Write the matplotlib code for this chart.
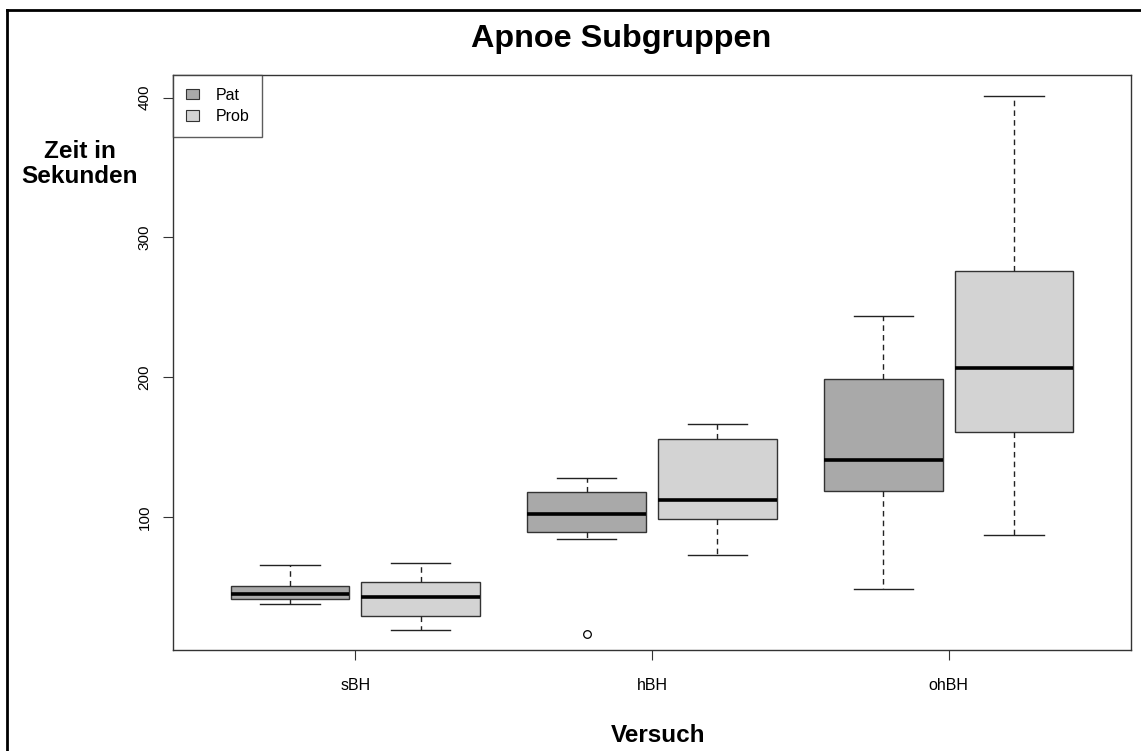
import numpy as np
import matplotlib.pyplot as plt
from matplotlib.patches import Patch
from matplotlib.lines import Line2D

plt.rcParams['font.family'] = ['Liberation Sans', 'DejaVu Sans']

versuch = ['sBH', 'hBH', 'ohBH']
gruppen = ['Pat', 'Prob']
farben = ['#a9a9a9', '#d3d3d3']

# whisker low, q1, median, q3, whisker high
pat_stats = [
    [37.4, 41.0, 44.5, 50.7, 65.7],
    [84.1, 88.9, 102.2, 117.5, 127.8],
    [48.0, 118.7, 140.4, 198.4, 243.5],
]
prob_stats = [
    [19.0, 28.8, 42.6, 53.5, 66.9],
    [73.0, 98.6, 112.0, 155.7, 166.7],
    [87.0, 160.7, 206.5, 276.2, 401.0],
]
pat_ausreisser = [[], [16.0], []]
prob_ausreisser = [[], [], []]


def make_stats(rows, fliers):
    out = []
    for (lo, q1, med, q3, hi), fl in zip(rows, fliers):
        out.append(dict(whislo=lo, q1=q1, med=med, q3=q3, whishi=hi,
                        fliers=np.array(fl)))
    return out


fig = plt.figure(figsize=(11.41, 7.51), dpi=100)
ax = fig.add_axes([173 / 1141, 1 - 650 / 751, (1131 - 173) / 1141, (650 - 75) / 751])

x = np.arange(len(versuch))
offset = 0.22
breite = 0.4

for stats, fl, farbe, pos in [(pat_stats, pat_ausreisser, farben[0], x - offset),
                              (prob_stats, prob_ausreisser, farben[1], x + offset)]:
    ax.bxp(make_stats(stats, fl), positions=pos, widths=breite,
           capwidths=breite / 2, patch_artist=True, manage_ticks=False,
           boxprops=dict(facecolor=farbe, edgecolor='#333333', linewidth=1),
           whiskerprops=dict(color='#222222', linestyle=(0, (4, 3)), linewidth=1),
           capprops=dict(color='#222222', linewidth=1),
           medianprops=dict(color='black', linewidth=2.6),
           flierprops=dict(marker='o', markerfacecolor='none',
                           markeredgecolor='black', markersize=5.5,
                           markeredgewidth=0.9))

ax.set_xlim(-0.615, 2.615)
ax.set_ylim(4.7, 416.2)
ax.set_xticks(x)
ax.set_xticklabels(versuch, fontsize=11.5)
ax.set_yticks([100, 200, 300, 400])
ax.set_yticklabels(['100', '200', '300', '400'], fontsize=11,
                   rotation=90, va='center')
ax.tick_params(axis='x', length=7.5, pad=13, color='#333333')
ax.tick_params(axis='y', length=7.5, pad=8, color='#333333')
for s in ax.spines.values():
    s.set_color('#333333')
    s.set_linewidth(1)

handles = [Patch(facecolor=c, edgecolor='#333333', linewidth=0.8) for c in farben]
leg = ax.legend(handles, gruppen, loc='upper left', borderaxespad=0,
                fontsize=11.5, fancybox=False, edgecolor='#333333',
                handlelength=0.85, handleheight=0.6, handletextpad=1.0,
                borderpad=0.8, labelspacing=0.4)
leg.get_frame().set_linewidth(1)

fig.text(621 / 1141, 1 - 39 / 751, 'Apnoe Subgruppen', ha='center',
         va='center', fontsize=23.3, fontweight='bold')
fig.text(80 / 1141, 1 - 164 / 751, 'Zeit in\nSekunden', ha='center',
         va='center', fontsize=17.5, fontweight='bold', linespacing=1.12)
fig.text(658 / 1141, 1 - 735 / 751, 'Versuch', ha='center', va='center',
         fontsize=17.5, fontweight='bold')

# outer frame
fig.add_artist(Line2D([7 / 1141, 7 / 1141], [0, 1 - 10 / 751],
                      transform=fig.transFigure, color='black', linewidth=2))
fig.add_artist(Line2D([7 / 1141, 1], [1 - 10 / 751, 1 - 10 / 751],
                      transform=fig.transFigure, color='black', linewidth=2))

fig.savefig('out.png', dpi=100)
